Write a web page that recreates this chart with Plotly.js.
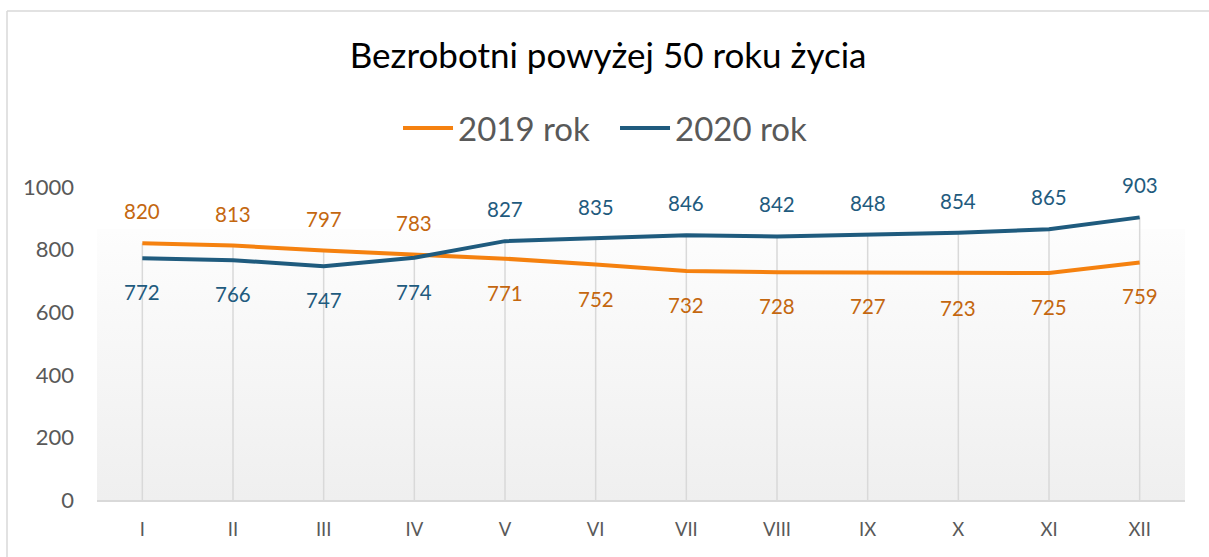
<!DOCTYPE html>
<html>
<head>
<meta charset="utf-8">
<script src="https://cdn.plot.ly/plotly-3.0.1.min.js"></script>
<style>html,body{margin:0;padding:0;background:#fff;}#chart{width:1209px;height:557px;}</style>
</head>
<body>
<div id="chart"></div>
<script>
const months = ['I','II','III','IV','V','VI','VII','VIII','IX','X','XI','XII'];
const values2019 = [820, 813, 797, 783, 771, 752, 732, 728, 727, 723, 725, 759];
const values2020 = [772, 766, 747, 774, 827, 835, 846, 842, 848, 854, 865, 903];
const name2019 = '2019 rok';
const name2020 = '2020 rok';
const chartTitle = 'Bezrobotni powyżej 50 roku życia';

const W = 1209, H = 557;
const M = {l: 97, r: 24, t: 187, b: 57};
const FONT = 'Lato, "Open Sans", sans-serif';
const orange = '#f5810f', orangeLbl = '#c4670f';
const blue = '#1f5b7e', blueLbl = '#1f5b7e';

// drop lines from the higher of the two series down to the axis
const dropX = [], dropY = [];
months.forEach((m, i) => {
  dropX.push(m, m, null);
  dropY.push(0, Math.max(values2019[i], values2020[i]), null);
});

const traces = [
  {x: dropX, y: dropY, mode: 'lines', line: {color: '#d9d9d9', width: 1.5},
   hoverinfo: 'skip', showlegend: false},
  {x: months, y: values2019, name: name2019, mode: 'lines',
   line: {color: orange, width: 4}},
  {x: months, y: values2020, name: name2020, mode: 'lines',
   line: {color: blue, width: 4}}
];

const annotations = [];
months.forEach((m, i) => {
  const a = values2019[i], b = values2020[i];
  annotations.push({x: m, y: a, xref: 'x', yref: 'y', text: String(a), showarrow: false,
    yshift: a >= b ? 32 : -34, font: {family: FONT, size: 20.5, color: orangeLbl}});
  annotations.push({x: m, y: b, xref: 'x', yref: 'y', text: String(b), showarrow: false,
    yshift: b > a ? 32 : -34, font: {family: FONT, size: 20.5, color: blueLbl}});
});

const pw = W - M.l - M.r, ph = H - M.t - M.b;
const px2x = p => (p - M.l) / pw;
const py2y = p => (H - M.b - p) / ph;

const gradSvg = '<svg xmlns="http://www.w3.org/2000/svg" width="100" height="100" preserveAspectRatio="none">' +
  '<defs><linearGradient id="g" x1="0" y1="0" x2="0" y2="1">' +
  '<stop offset="0" stop-color="#fdfdfd"/><stop offset="1" stop-color="#efefef"/></linearGradient></defs>' +
  '<rect width="100" height="100" fill="url(#g)"/></svg>';

const layout = {
  width: W, height: H,
  margin: M,
  paper_bgcolor: '#ffffff',
  plot_bgcolor: 'rgba(0,0,0,0)',
  font: {family: FONT, color: '#595959'},
  title: {text: chartTitle, font: {family: FONT, size: 35, color: '#000000'},
          xref: 'container', x: 0.503, xanchor: 'center',
          yref: 'container', y: 1 - 56/H, yanchor: 'middle'},
  legend: {orientation: 'h', xref: 'container', yref: 'container',
           x: 0.5087, xanchor: 'center', y: 1 - 128/H, yanchor: 'middle',
           font: {family: FONT, size: 33, color: '#595959'},
           itemwidth: 50, entrywidth: 152, tracegroupgap: 0, bgcolor: 'rgba(0,0,0,0)'},
  xaxis: {type: 'category', range: [-0.5, 11.5], showgrid: false, zeroline: false,
          showline: true, linecolor: '#d9d9d9', linewidth: 1.5,
          ticks: '', tickfont: {family: FONT, size: 18.5, color: '#595959'},
          ticklabelstandoff: 12, fixedrange: true},
  yaxis: {range: [0, 1000], dtick: 200, tick0: 0, showgrid: false, zeroline: false,
          showline: false, ticks: '', tickfont: {family: FONT, size: 22, color: '#595959'},
          ticklabelstandoff: 22, fixedrange: true},
  images: [{source: 'data:image/svg+xml;charset=utf-8,' + encodeURIComponent(gradSvg),
            xref: 'paper', yref: 'paper', x: 0, y: py2y(229), sizex: 1, sizey: py2y(229),
            xanchor: 'left', yanchor: 'top', sizing: 'stretch', layer: 'below'}],
  shapes: [
    {type: 'line', xref: 'paper', yref: 'paper', x0: px2x(7), x1: px2x(7), y0: py2y(11), y1: py2y(600),
     line: {color: '#d9d9d9', width: 1.5}},
    {type: 'line', xref: 'paper', yref: 'paper', x0: px2x(7), x1: px2x(1250), y0: py2y(11), y1: py2y(11),
     line: {color: '#d9d9d9', width: 1.5}}
  ],
  annotations: annotations,
  showlegend: true
};

Plotly.newPlot('chart', traces, layout, {displayModeBar: false, staticPlot: true});
</script>
</body>
</html>
